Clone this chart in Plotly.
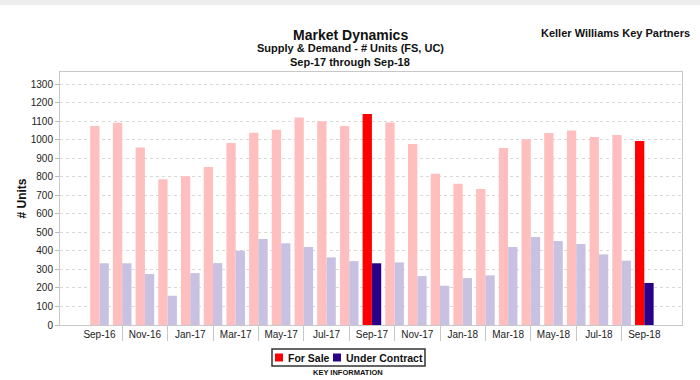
import plotly.graph_objects as go

months = ["Sep-16", "Oct-16", "Nov-16", "Dec-16", "Jan-17", "Feb-17", "Mar-17", "Apr-17",
          "May-17", "Jun-17", "Jul-17", "Aug-17", "Sep-17", "Oct-17", "Nov-17", "Dec-17",
          "Jan-18", "Feb-18", "Mar-18", "Apr-18", "May-18", "Jun-18", "Jul-18", "Aug-18", "Sep-18"]
for_sale = [1073, 1091, 958, 787, 802, 852, 982, 1037, 1054, 1120, 1099, 1073, 1138,
            1093, 976, 816, 762, 734, 955, 1002, 1036, 1050, 1014, 1025, 993]
under_contract = [333, 333, 275, 158, 280, 334, 401, 464, 441, 421, 365, 345, 333,
                  338, 264, 212, 253, 268, 421, 475, 453, 437, 381, 347, 227]
highlight = ["Sep-17", "Sep-18"]
tick_labels = months[::2]

FS_BRIGHT, FS_PALE = "#FF0000", "#FFBFBF"
UC_BRIGHT, UC_PALE = "#2A0088", "#C9C1E1"

W, H = 700, 380
L, R, T, B = 60, 682, 72, 325  # plot area in pixels


def px(x):
    return (x - L) / (R - L)


def py(y):
    return (B - y) / (B - T)


fs_colors = [FS_BRIGHT if m in highlight else FS_PALE for m in months]
uc_colors = [UC_BRIGHT if m in highlight else UC_PALE for m in months]

fig = go.Figure()
fig.add_trace(go.Bar(x=months, y=for_sale, name="For Sale", marker=dict(color=fs_colors, line_width=0)))
fig.add_trace(go.Bar(x=months, y=under_contract, name="Under Contract", marker=dict(color=uc_colors, line_width=0)))
# invisible helper so the separator-tick axis is drawn
fig.add_trace(go.Scatter(x=[None], y=[None], xaxis="x2", showlegend=False, hoverinfo="skip"))

FONT = "Liberation Sans, Arial, sans-serif"
xr = [-1.74, 25.66]

fig.update_layout(
    width=W, height=H,
    margin=dict(l=L, r=W - R, t=T, b=H - B),
    paper_bgcolor="white", plot_bgcolor="white",
    barmode="group", bargap=0.18, bargroupgap=0,
    showlegend=False,
    font=dict(family=FONT, size=10, color="#222"),
    xaxis=dict(type="category", range=xr, tickvals=tick_labels, ticktext=tick_labels,
               ticks="", showgrid=False, showline=True, mirror=True, linecolor="#c8c8c8",
               linewidth=1, tickfont=dict(size=10, color="#222")),
    xaxis2=dict(overlaying="x", anchor="y", side="bottom", range=xr,
                tickvals=list(range(1, 24, 2)), ticks="outside", ticklen=15, tickwidth=1,
                tickcolor="#c8c8c8", showticklabels=False, showgrid=False, showline=False,
                zeroline=False),
    yaxis=dict(range=[0, 1365], dtick=100, tick0=0, showgrid=True, gridcolor="#d8d8d8",
               griddash="dot", gridwidth=1, ticks="outside", ticklen=4, tickcolor="#bbbbbb",
               showline=True, mirror=True, linecolor="#c8c8c8", linewidth=1, zeroline=False,
               tickfont=dict(size=10, color="#222"),
               title=dict(text="<b># Units</b>", font=dict(size=12, color="#111"), standoff=1)),
)

ann = [
    dict(text="<b>Market Dynamics</b>", x=px(350), y=py(35), font=dict(size=14, color="#111")),
    dict(text="<b>Supply &amp; Demand - # Units (FS, UC)</b>", x=px(350), y=py(48), font=dict(size=11, color="#111")),
    dict(text="<b>Sep-17 through Sep-18</b>", x=px(350), y=py(62), font=dict(size=11, color="#111")),
    dict(text="<b>Keller Williams Key Partners</b>", x=px(692), y=py(33), xanchor="right", font=dict(size=11, color="#111")),
    dict(text="<b>For Sale</b>", x=px(286), y=py(357.5), xanchor="left", font=dict(size=10.5, color="#111")),
    dict(text="<b>Under Contract</b>", x=px(344), y=py(357.5), xanchor="left", font=dict(size=10.5, color="#111")),
    dict(text="<b>KEY INFORMATION</b>", x=px(348), y=py(372), font=dict(size=7.5, color="#111")),
]
for a in ann:
    a.setdefault("xanchor", "center")
    fig.add_annotation(xref="paper", yref="paper", showarrow=False, yanchor="middle", **a)

shapes = [
    # top grey band
    dict(type="rect", x0=px(0), x1=px(W), y0=py(0), y1=py(5), fillcolor="#ededed", line_width=0),
    # legend box
    dict(type="rect", x0=px(272), x1=px(425), y0=py(349), y1=py(366), fillcolor="white",
         line=dict(color="#333", width=1.5)),
    dict(type="rect", x0=px(275), x1=px(283), y0=py(353.5), y1=py(361.5), fillcolor=FS_BRIGHT, line_width=0),
    dict(type="rect", x0=px(333), x1=px(341), y0=py(353.5), y1=py(361.5), fillcolor=UC_BRIGHT, line_width=0),
]
for s in shapes:
    fig.add_shape(xref="paper", yref="paper", layer="above", **s)

fig.write_html("out.html", config={"displayModeBar": False},
               post_script="document.body.style.margin='0';document.body.style.overflow='hidden';")
